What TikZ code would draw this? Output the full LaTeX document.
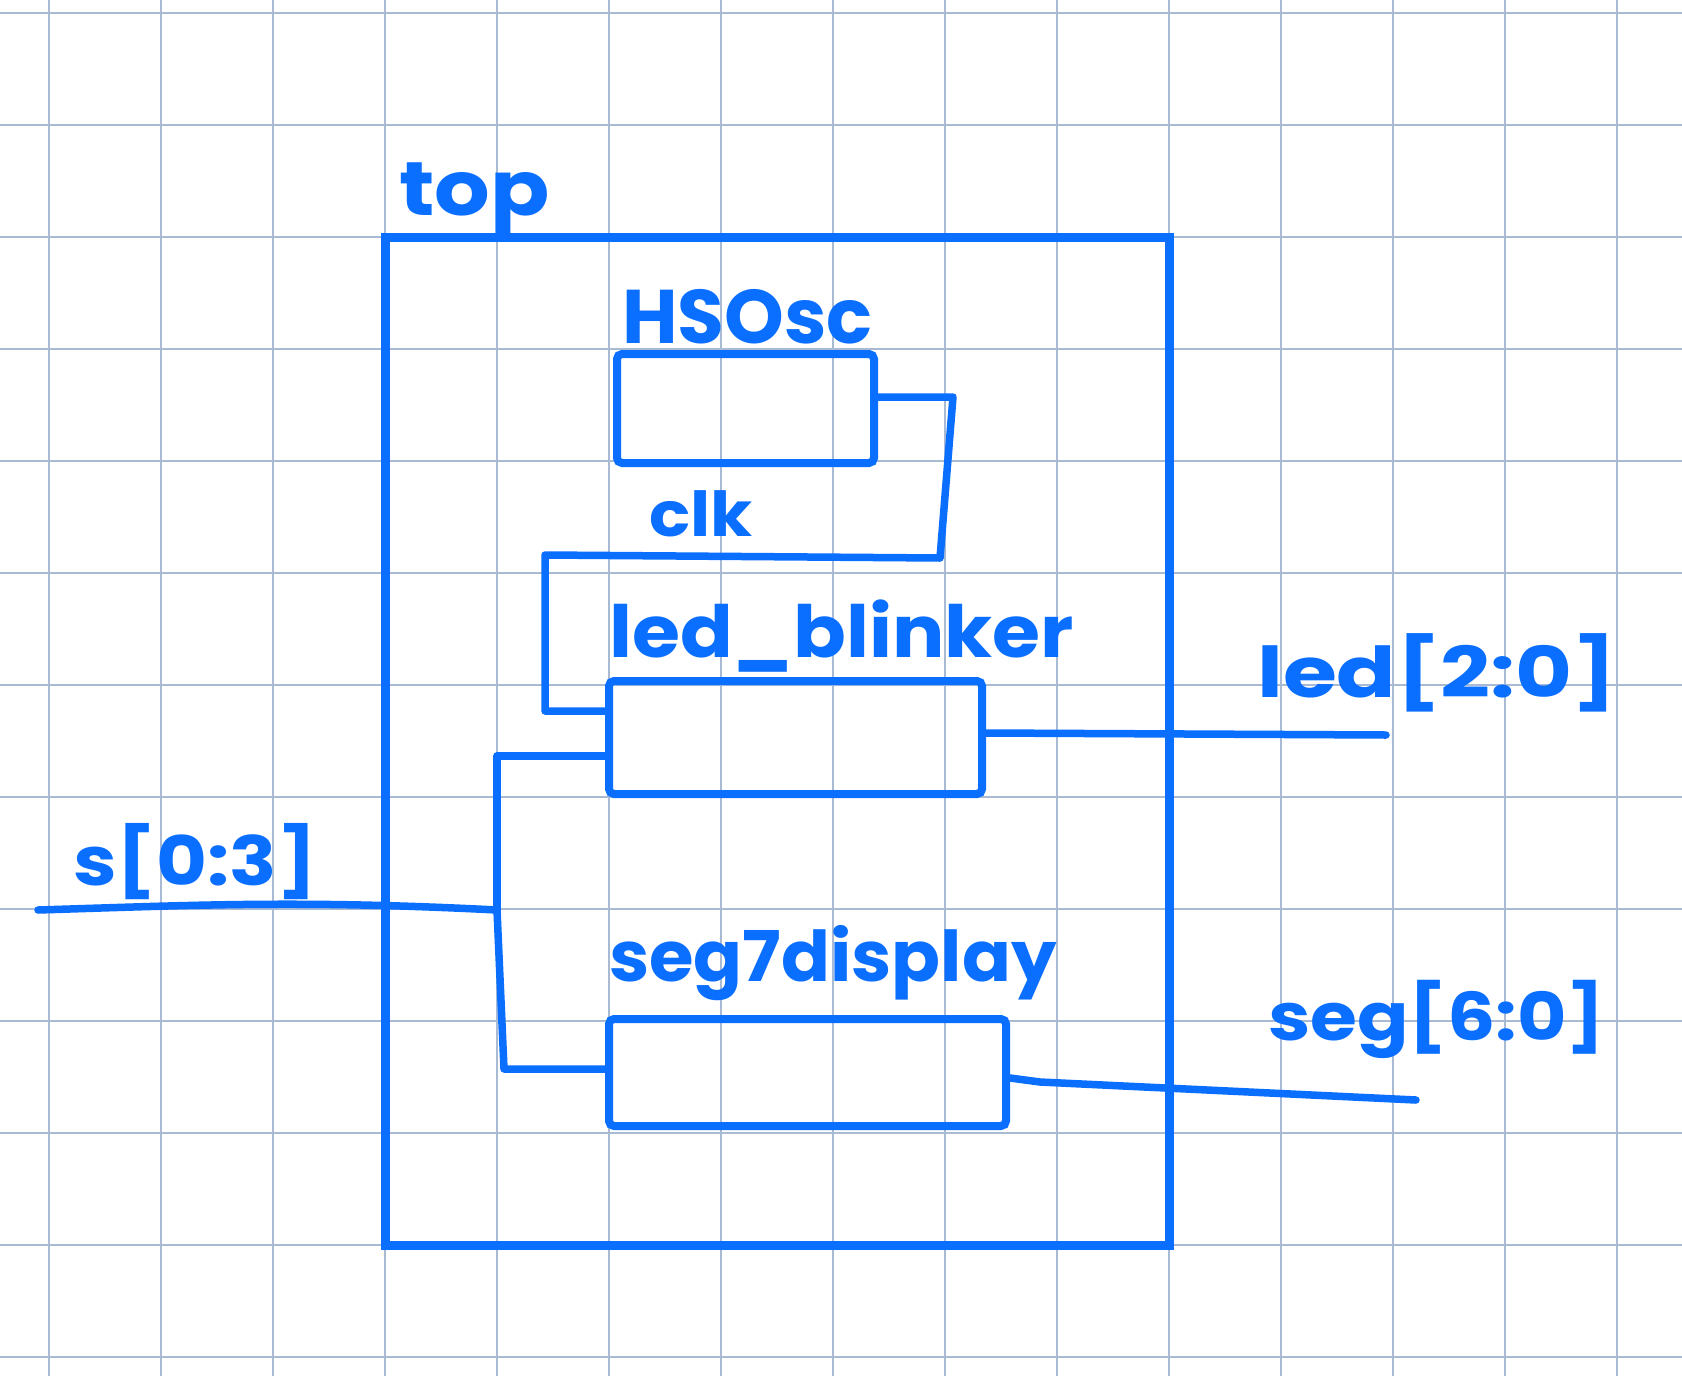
\documentclass[tikz,border=0pt]{standalone}
\usepackage{fontspec}
\setmainfont{Poppins}
\definecolor{ink}{HTML}{0A6EFF}
\definecolor{gridc}{HTML}{A9BAD5}
\newcommand{\hw}[3]{\fontsize{#1}{#1}\selectfont\bfseries\scalebox{#2}[1]{#3}}
\begin{document}
\begin{tikzpicture}[x=1pt,y=-1pt,
  modbox/.style={draw=ink,line width=8pt,rounded corners=5pt,inner sep=0pt},
  topbox/.style={draw=ink,line width=9pt,inner sep=0pt},
  wire/.style={draw=ink,line width=7.5pt,line cap=round,line join=round},
  lab/.style={text=ink,anchor=base west,inner sep=0pt}]
\fill[white] (0,0) rectangle (1682,1376);
\useasboundingbox (0,0) rectangle (1682,1376);
\foreach \k in {0,...,14} {\draw[gridc,line width=2pt] (49+112*\k,0) -- (49+112*\k,1376);}
\foreach \k in {0,...,12} {\draw[gridc,line width=2pt] (0,13+112*\k) -- (1682,13+112*\k);}
% top module
\node[topbox,minimum width=784pt,minimum height=1008pt] (top) at (777,741) {};
\node[lab] (toplab) at (399,215) {\hw{76}{1.15}{top}};
% submodules
\node[modbox,minimum width=257pt,minimum height=109pt] (hs) at (745.5,408.5) {};
\node[lab] (hslab) at (622,343) {\hw{76}{1.0}{HSOsc}};
\node[modbox,minimum width=373pt,minimum height=113pt] (lb) at (795.5,737.5) {};
\node[lab] (lblab) at (609,657) {\hw{72}{1.08}{led\_blinker}};
\node[modbox,minimum width=397pt,minimum height=107pt] (sd) at (807.5,1072.5) {};
\node[lab] (sdlab) at (609,981) {\hw{70}{1.03}{seg7display}};
% clk wire
\coordinate (c1) at (953,397);
\coordinate (c2) at (940,558);
\coordinate (c3) at (545,555);
\coordinate (c4) at (545,711);
\draw[wire] ([yshift=11.5pt]hs.east) -- (c1) -- (c2) -- (c3) -- (c4) -- ([yshift=26.5pt]lb.west);
\node[lab] (clklab) at (649,536) {\hw{62}{1.1}{clk}};
% input s[0:3]
\coordinate (sin) at (38,910);
\coordinate (j) at (497,910);
\coordinate (b1) at (497,756);
\coordinate (b2) at (504,1069);
\draw[wire] (sin) .. controls (200,905) and (300,900) .. (j);
\draw[wire] (j) -- (b1) -- ([yshift=-18.5pt]lb.west);
\draw[wire] (j) -- (b2) -- ([yshift=3.5pt]sd.west);
\node[lab] (slab) at (73,885) {\hw{68}{1.15}{s[0:3]}};
% outputs
\coordinate (ledout) at (1386,735);
\draw[wire] ([yshift=4.5pt]lb.east) -- (ledout);
\node[lab] (ledlab) at (1257,697) {\hw{70}{1.25}{led[2:0]}};
\coordinate (s1) at (1040,1082);
\coordinate (segout) at (1416,1100);
\draw[wire] ([yshift=-5.5pt]sd.east) -- (s1) -- (segout);
\node[lab] (seglab) at (1268,1040) {\hw{66}{1.15}{seg[6:0]}};
\end{tikzpicture}
\end{document}
